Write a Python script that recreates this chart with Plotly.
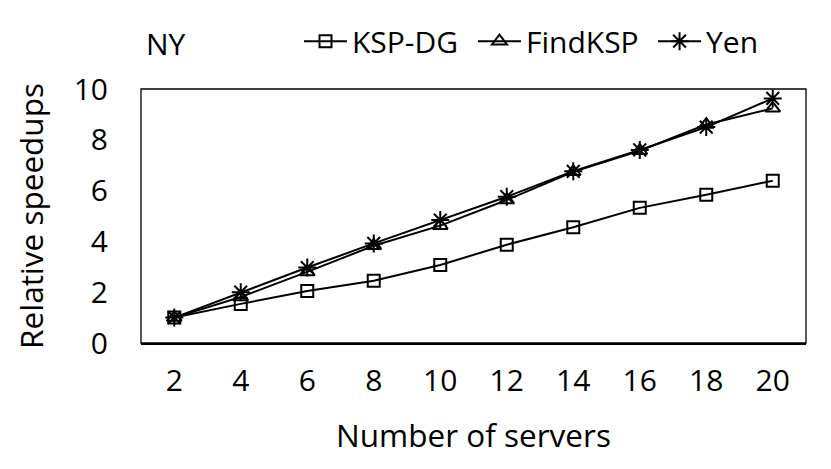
import plotly.graph_objects as go

servers = ["2", "4", "6", "8", "10", "12", "14", "16", "18", "20"]
ksp_dg = [1.0, 1.54, 2.05, 2.45, 3.07, 3.87, 4.56, 5.32, 5.84, 6.39]
findksp = [1.0, 1.81, 2.8, 3.83, 4.62, 5.63, 6.74, 7.57, 8.6, 9.24]
yen = [1.0, 2.0, 2.97, 3.92, 4.84, 5.76, 6.76, 7.6, 8.5, 9.63]
y_ticks = [0, 2, 4, 6, 8, 10]

FONT = "'Open Sans', sans-serif"
FS = 30
TS = 31.5

fig = go.Figure()
fig.add_trace(go.Scatter(x=servers, y=ksp_dg, name="KSP-DG", mode="lines+markers", legend="legend",
                         line=dict(color="black", width=2),
                         marker=dict(symbol="square-open", size=12, color="black", line=dict(width=2))))
fig.add_trace(go.Scatter(x=servers, y=findksp, name="FindKSP", mode="lines+markers", legend="legend2",
                         line=dict(color="black", width=2),
                         marker=dict(symbol="triangle-up-open", size=13, color="black", line=dict(width=2))))
fig.add_trace(go.Scatter(x=servers, y=yen, name="Yen", mode="lines+markers", legend="legend3",
                         line=dict(color="black", width=2),
                         marker=dict(symbol="asterisk-open", size=15, color="black", line=dict(width=2))))

leg_common = dict(orientation="h", xanchor="left", yref="container", y=0.928, yanchor="middle",
                  font=dict(size=FS), bgcolor="rgba(0,0,0,0)", borderwidth=0, itemwidth=43)

fig.update_layout(
    width=823, height=461,
    margin=dict(l=133, r=25, t=81, b=126, autoexpand=False),
    paper_bgcolor="white", plot_bgcolor="white",
    font=dict(family=FONT, color="black", size=FS),
    showlegend=True,
    legend=dict(x=0.2376, **leg_common),
    legend2=dict(x=0.4992, **leg_common),
    legend3=dict(x=0.770, **leg_common),
    xaxis=dict(type="category", categoryorder="array", categoryarray=servers,
               range=[-0.5, len(servers) - 0.5],
               showline=True, linecolor="black", linewidth=2, mirror=False,
               ticks="", showgrid=False, tickfont=dict(size=FS), automargin=False,
               ticklabelstandoff=10,
               title=dict(text="Number of servers", font=dict(size=TS), standoff=26)),
    yaxis=dict(range=[0, 10], tickvals=y_ticks, ticks="", showgrid=False, zeroline=False,
               showline=False, tickfont=dict(size=FS), ticklabelstandoff=32, automargin=False,
               title=dict(text="Relative speedups", font=dict(size=TS), standoff=20)),
    shapes=[dict(type="rect", xref="paper", yref="paper", x0=0, x1=1, y0=0, y1=1,
                 line=dict(color="black", width=1.3), layer="above")],
    annotations=[dict(text="NY", xref="paper", yref="paper", x=0.0376, y=1.181,
                      xanchor="center", yanchor="middle", showarrow=False,
                      font=dict(size=FS))],
)

fig.write_html("out.html")
